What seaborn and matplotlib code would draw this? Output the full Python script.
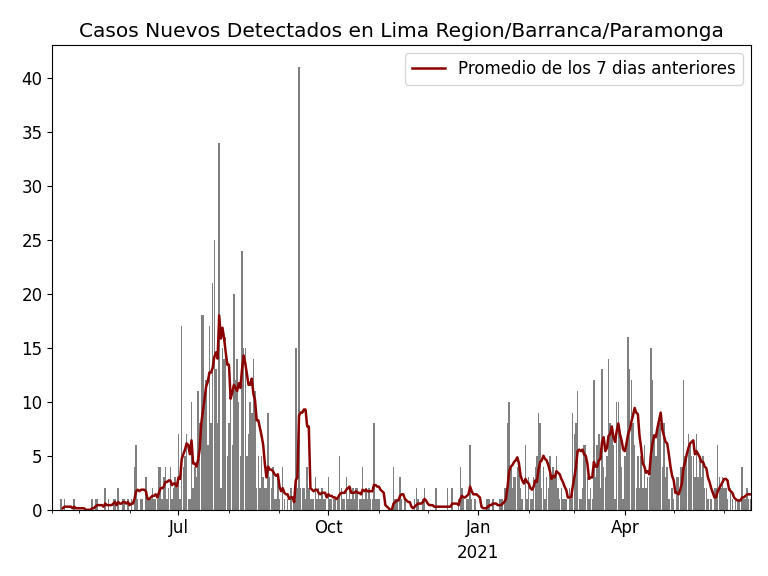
import pandas as pd
import matplotlib
matplotlib.use("Agg")
import matplotlib.pyplot as plt
import matplotlib.dates as mdates
from matplotlib.ticker import FuncFormatter
import seaborn as sns

# daily new cases, starting 2020-04-15
start_date = "2020-04-15"
casos = [
    0, 0, 0, 0, 0, 1, 0, 1, 0, 0,
    0, 0, 0, 1, 0, 0, 0, 0, 0, 0,
    0, 0, 0, 0, 1, 0, 1, 1, 0, 0,
    0, 0, 2, 0, 1, 0, 0, 1, 1, 0,
    2, 0, 0, 1, 1, 0, 1, 0, 1, 0,
    4, 6, 1, 0, 1, 1, 0, 3, 1, 1,
    1, 2, 1, 1, 1, 4, 4, 1, 3, 4,
    1, 2, 4, 1, 2, 3, 2, 7, 1, 17,
    4, 5, 7, 1, 1, 10, 2, 4, 3, 11,
    8, 18, 18, 10, 12, 6, 17, 8, 21, 25,
    13, 8, 34, 2, 15, 14, 16, 5, 8, 12,
    6, 20, 12, 14, 10, 5, 24, 15, 15, 5,
    7, 10, 9, 14, 11, 2, 5, 2, 5, 3,
    2, 2, 9, 3, 2, 4, 1, 1, 3, 1,
    0, 4, 1, 0, 1, 0, 2, 0, 1, 15,
    2, 41, 2, 2, 2, 1, 4, 2, 1, 1,
    1, 3, 1, 2, 1, 2, 1, 1, 0, 3,
    1, 1, 1, 1, 0, 1, 5, 2, 1, 1,
    3, 1, 2, 1, 2, 1, 2, 2, 1, 1,
    4, 1, 2, 1, 2, 1, 1, 8, 1, 1,
    1, 0, 0, 0, 0, 0, 0, 0, 0, 4,
    1, 1, 0, 3, 1, 0, 1, 0, 0, 0,
    0, 0, 1, 2, 1, 0, 0, 1, 2, 0,
    0, 0, 0, 0, 0, 2, 0, 0, 0, 0,
    0, 0, 2, 0, 0, 2, 0, 0, 0, 1,
    4, 2, 1, 0, 1, 1, 6, 1, 0, 1,
    0, 0, 0, 0, 0, 0, 1, 1, 1, 0,
    1, 0, 0, 0, 1, 1, 1, 2, 2, 8,
    10, 4, 2, 3, 3, 4, 4, 2, 1, 0,
    6, 1, 3, 1, 1, 3, 4, 5, 9, 8,
    2, 4, 1, 3, 2, 5, 3, 4, 3, 5,
    2, 1, 2, 1, 1, 1, 0, 2, 1, 9,
    7, 8, 11, 1, 1, 2, 6, 6, 3, 1,
    2, 1, 12, 3, 6, 7, 2, 13, 4, 3,
    5, 14, 8, 7, 6, 1, 10, 10, 7, 4,
    1, 5, 6, 16, 13, 12, 8, 6, 2, 5,
    2, 5, 2, 6, 2, 3, 3, 15, 12, 7,
    5, 8, 8, 8, 4, 8, 3, 4, 1, 0,
    2, 1, 0, 3, 3, 4, 4, 12, 5, 5,
    7, 6, 5, 5, 3, 7, 3, 5, 3, 5,
    2, 2, 1, 0, 1, 0, 2, 2, 6, 3,
    2, 3, 2, 2, 1, 0, 2, 1, 0, 1,
    1, 1, 0, 4, 1, 1, 2, 1, 1,
]

titulo = "Casos Nuevos Detectados en Lima Region/Barranca/Paramonga"
etiqueta_media = "Promedio de los 7 dias anteriores"

df = pd.DataFrame({
    "fecha": pd.date_range(start_date, periods=len(casos), freq="D"),
    "casos": casos,
})
df["media7"] = df["casos"].rolling(7).mean()

fig, ax = plt.subplots(figsize=(7.68, 5.76), dpi=100)
fig.subplots_adjust(left=0.068, right=0.978, top=0.922, bottom=0.115)

ax.bar(df["fecha"], df["casos"], width=0.9, color="gray")
sns.lineplot(data=df, x="fecha", y="media7", ax=ax, color="darkred",
             linewidth=1.8, label=etiqueta_media)

first = df["fecha"].iloc[0] - pd.Timedelta(hours=12)
last = df["fecha"].iloc[-1] + pd.Timedelta(hours=12)
ax.set_xlim(first, last)
ax.set_ylim(0, None)

# quarter labels like pandas: Jul, Oct, Jan\n2021, Apr ; month minor ticks
ax.xaxis.set_major_locator(mdates.MonthLocator(bymonth=[1, 4, 7, 10]))
ax.xaxis.set_major_formatter(FuncFormatter(
    lambda v, pos: mdates.num2date(v).strftime("%b\n%Y" if mdates.num2date(v).month == 1 else "%b")))
minor = [mdates.date2num(first)] + list(mdates.date2num(pd.date_range("2020-05-01", "2021-06-01", freq="MS")))
ax.set_xticks(minor, minor=True)

ax.set_xlabel("")
ax.set_ylabel("")
ax.tick_params(labelsize=12)
ax.set_title(titulo, fontsize=14.5)
ax.legend(loc="upper right", fontsize=12)

fig.canvas.draw()
for lbl in ax.get_xticklabels():
    lbl.set_linespacing(1.45)

plt.savefig("out.png", dpi=100)
